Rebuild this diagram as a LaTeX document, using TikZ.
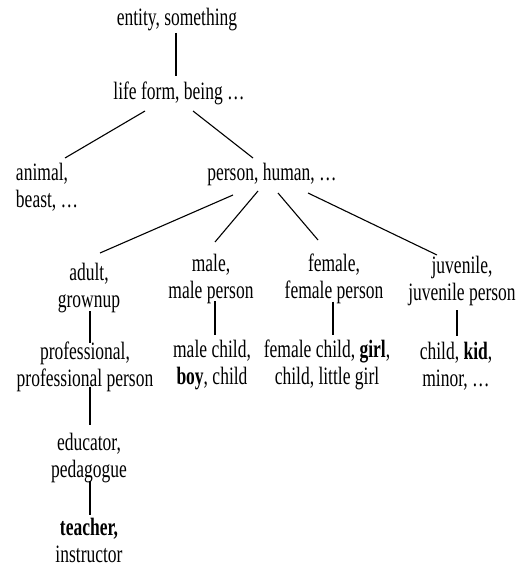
\documentclass[tikz,border=0pt]{standalone}
\usepackage{fontspec}
\setmainfont{Liberation Serif}[FakeStretch=0.70]
\begin{document}
\begin{tikzpicture}[x=1pt,y=1pt,
  lbl/.style={inner sep=0pt, outer sep=0pt, align=center, anchor=north,
    font=\fontsize{25}{27}\selectfont,
    execute at begin node=\strut, execute at end node=\strut},
  edge/.style={draw=black, line width=1.1pt}]
\useasboundingbox (0,0) rectangle (528,-569);
% nodes (x = centre, y = top)
\node[lbl] (entity) at (177,-7.1) {entity, something};
\node[lbl] (life) at (179,-81.1) {life form, being \dots};
\node[lbl, anchor=north west, align=left] (animal) at (16,-163.1) {animal,\\beast, \dots};
\node[lbl] (person) at (272,-162.1) {person, human, \dots};
\node[lbl] (adult) at (89,-263.1) {adult,\\grownup};
\node[lbl] (male) at (211,-254.1) {male,\\male person};
\node[lbl] (female) at (334,-254.1) {female,\\female person};
\node[lbl] (juvenile) at (462,-256.1) {juvenile,\\juvenile person};
\node[lbl] (prof) at (85,-342.1) {professional,\\professional person};
\node[lbl] (malechild) at (212,-340.1) {male child,\\\textbf{boy}, child};
\node[lbl] (femalechild) at (327,-340.1) {female child, \textbf{girl},\\child, little girl};
\node[lbl] (kid) at (456,-342.1) {child, \textbf{kid},\\minor, \dots};
\node[lbl] (educator) at (89,-433.1) {educator,\\pedagogue};
\node[lbl] (teacher) at (89,-518.1) {\textbf{teacher,}\\instructor};
% connectors
\draw[edge] ([xshift=-1,yshift=1.1]entity.south) -- ([xshift=-3,yshift=5.1]life.north);
\draw[edge] ([xshift=-34,yshift=-2.9]life.south) -- ([xshift=49,yshift=5.1]animal.north west);
\draw[edge] ([xshift=14,yshift=-2.9]life.south) -- ([xshift=-19,yshift=4.1]person.north);
\draw[edge] ([xshift=-39,yshift=-5.9]person.south) -- ([xshift=11,yshift=10.1]adult.north);
\draw[edge] ([xshift=-14,yshift=-1.9]person.south) -- ([xshift=4,yshift=12.1]male.north);
\draw[edge] ([xshift=6,yshift=-3.9]person.south) -- ([xshift=-16,yshift=14.1]female.north);
\draw[edge] ([xshift=36,yshift=-3.9]person.south) -- ([xshift=-25,yshift=1.1]juvenile.north);
\draw[edge] ([xshift=1,yshift=4.1]adult.south) -- ([xshift=5,yshift=-0.9]prof.north);
\draw[edge] ([xshift=4,yshift=5.1]male.south) -- ([xshift=3,yshift=5.1]malechild.north);
\draw[edge] ([xshift=-1,yshift=5.1]female.south) -- ([xshift=6,yshift=5.1]femalechild.north);
\draw[edge] ([xshift=-5,yshift=-1.9]juvenile.south) -- ([xshift=1,yshift=6.1]kid.north);
\draw[edge] ([xshift=5,yshift=8.1]prof.south) -- ([xshift=1,yshift=8.1]educator.north);
\draw[edge] ([xshift=1,yshift=4.1]educator.south) -- ([xshift=1,yshift=3.1]teacher.north);
\end{tikzpicture}
\end{document}
